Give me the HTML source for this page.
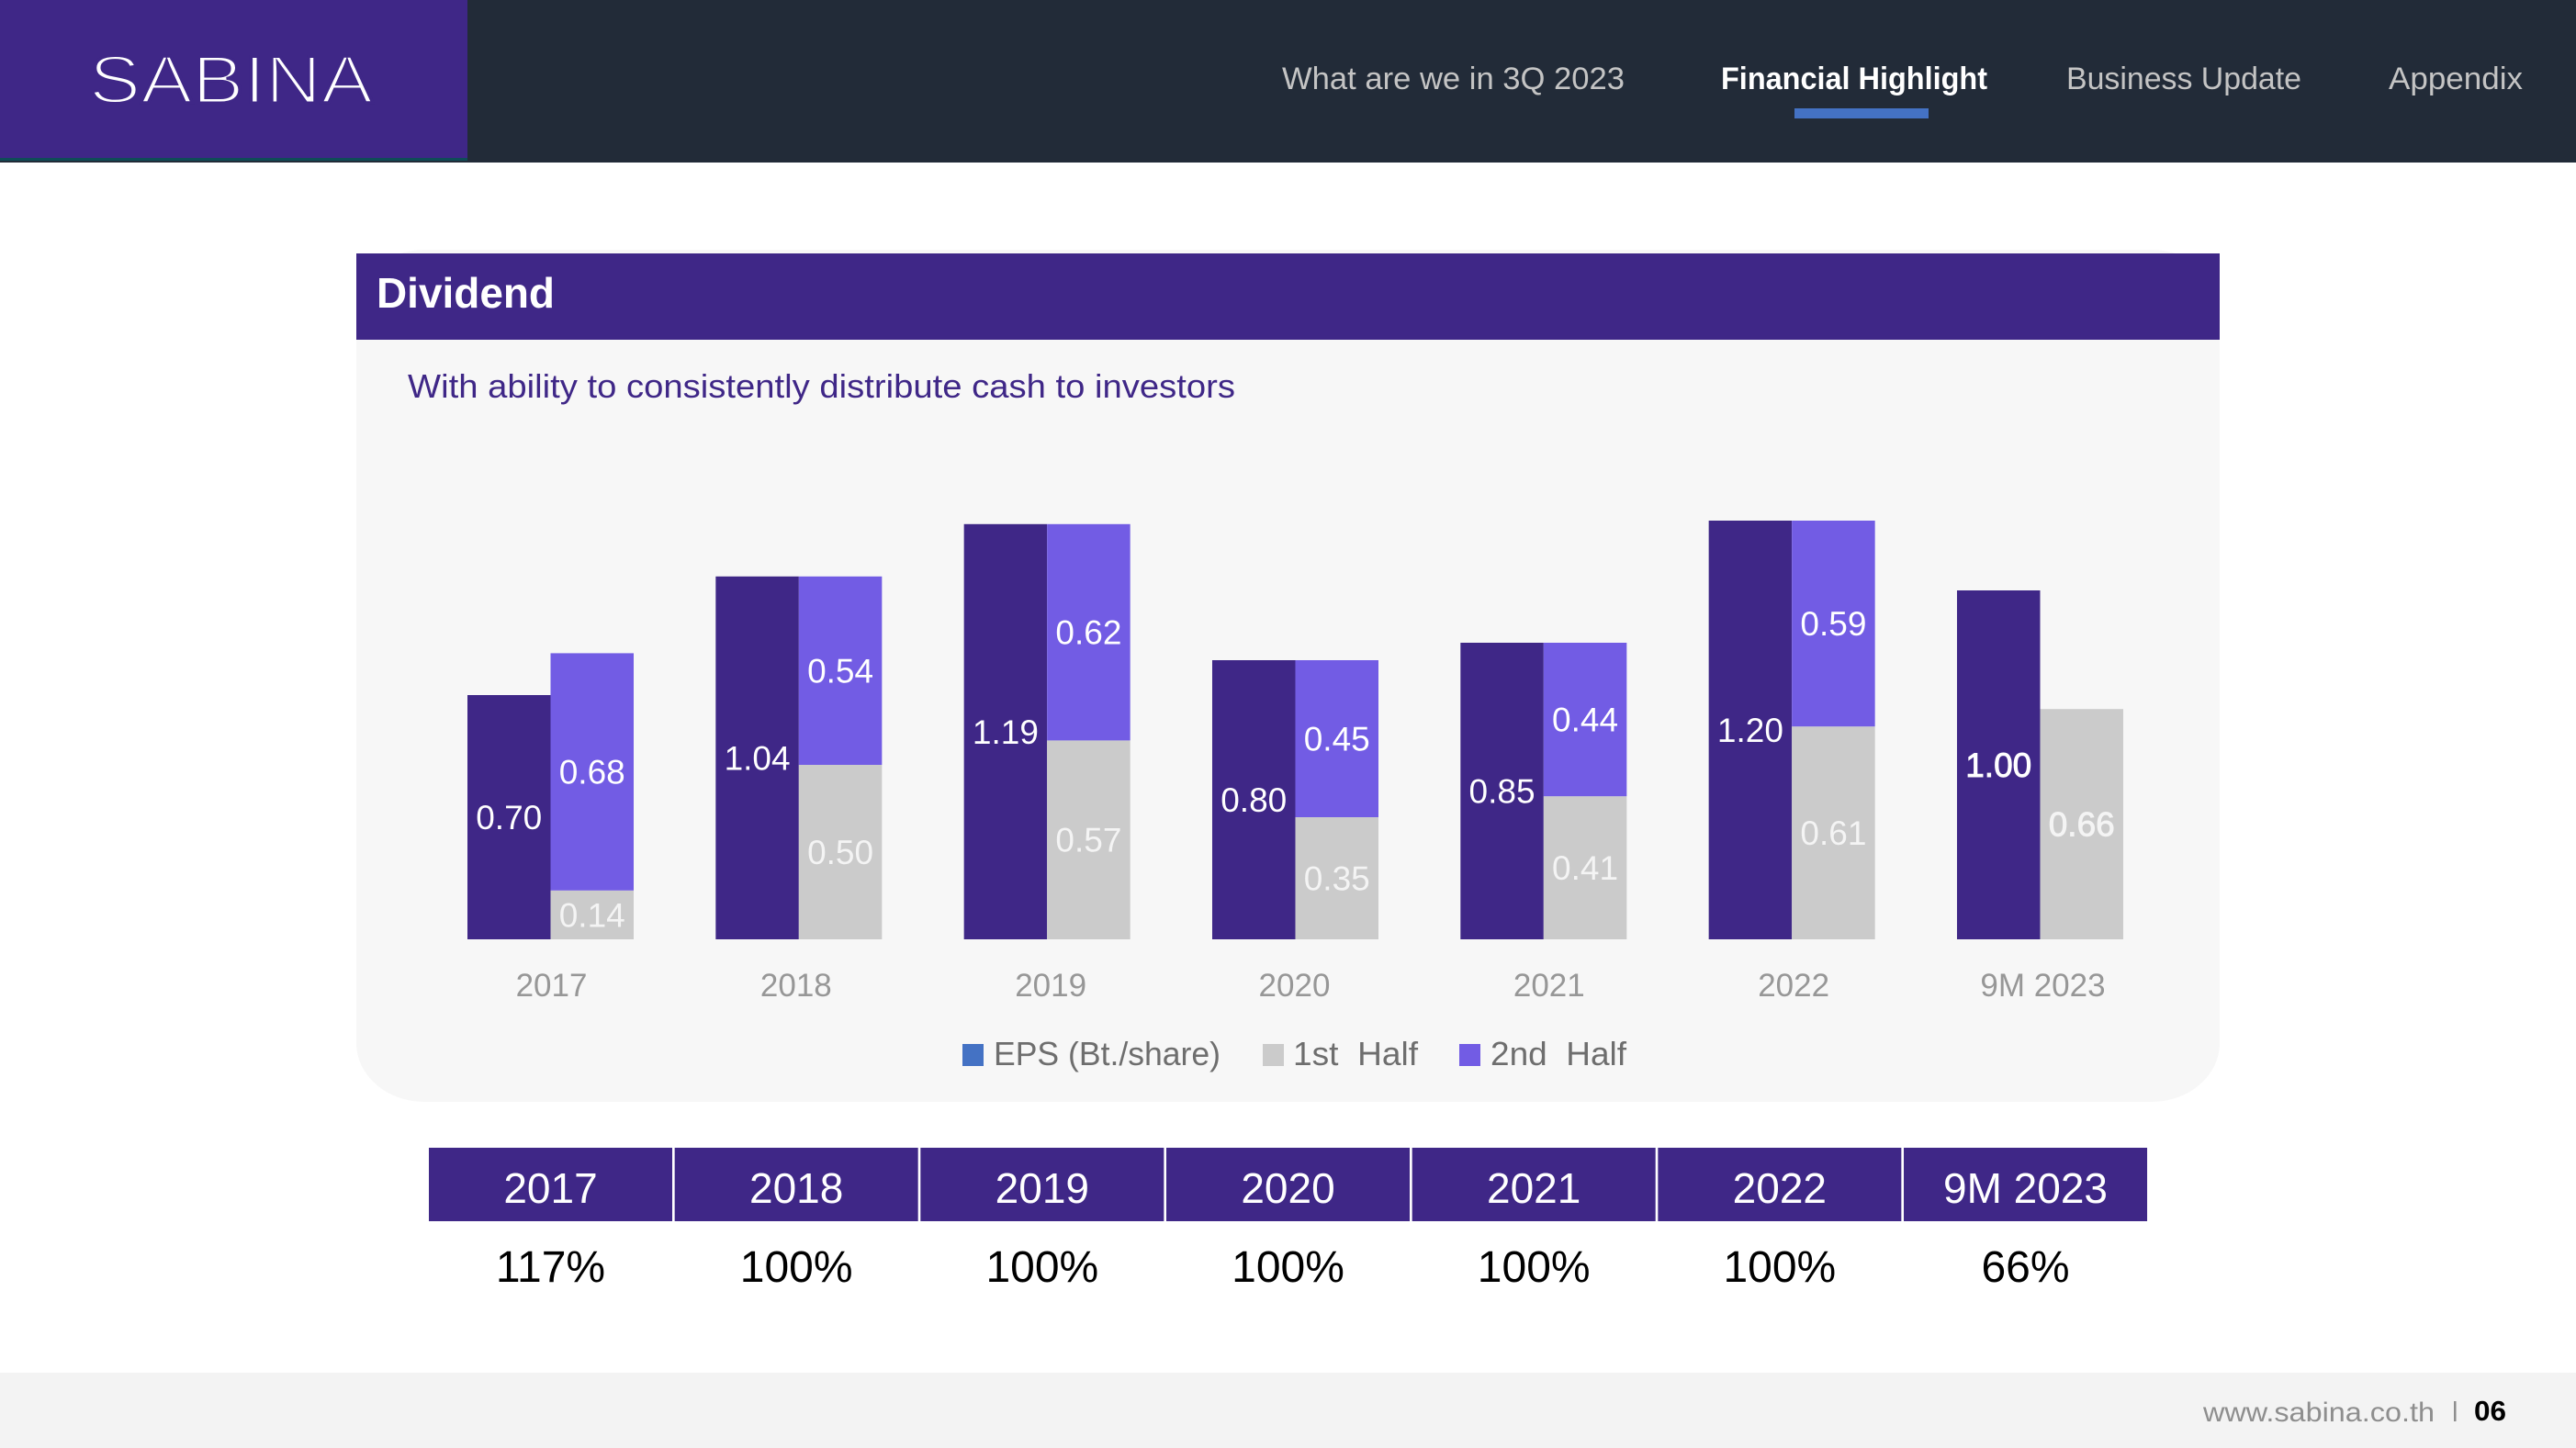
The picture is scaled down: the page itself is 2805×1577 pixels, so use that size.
<!DOCTYPE html>
<html lang="en">
<head>
<meta charset="utf-8">
<title>Sabina - Dividend</title>
<style>
html,body{margin:0;padding:0;background:#fff;width:2805px;height:1577px;overflow:hidden}
svg{display:block;font-family:"Liberation Sans",Arial,sans-serif}
text{white-space:pre}
</style>
</head>
<body>
<svg id="page" xmlns="http://www.w3.org/2000/svg" width="2805" height="1577" viewBox="0 0 2805 1577">
  <rect x="0" y="0" width="2805" height="1577" fill="#ffffff"/>

  <g>
    <rect x="0" y="0" width="2805" height="177" fill="#222b38"/>
    <rect x="0" y="0" width="509" height="172" fill="#3f2787"/>
    <rect x="0" y="172" width="509" height="3" fill="#0f4c58"/>
    <text x="97" y="112" font-size="73" fill="#ffffff" stroke="#3f2787" stroke-width="3" textLength="309" lengthAdjust="spacingAndGlyphs">SABINA</text>
    <text x="1396" y="97" font-size="34" fill="#c4c4c4" textLength="373" lengthAdjust="spacingAndGlyphs">What are we in 3Q 2023</text>
    <text x="1874" y="97" font-size="34" font-weight="bold" fill="#ffffff" textLength="290" lengthAdjust="spacingAndGlyphs">Financial Highlight</text>
    <rect x="1954" y="118" width="146" height="11" fill="#4472c4"/>
    <text x="2250" y="97" font-size="34" fill="#c4c4c4" textLength="256" lengthAdjust="spacingAndGlyphs">Business Update</text>
    <text x="2601" y="97" font-size="34" fill="#c4c4c4" textLength="146" lengthAdjust="spacingAndGlyphs">Appendix</text>
  </g>

  <g>
    <rect x="388" y="272" width="2029" height="928" rx="74" ry="64" fill="#f7f7f7"/>
    <rect x="388" y="276" width="2029" height="94" fill="#3f2787"/>
    <text x="410" y="335" font-size="46" font-weight="bold" fill="#ffffff" textLength="194" lengthAdjust="spacingAndGlyphs">Dividend</text>
    <text x="444" y="433" font-size="36" fill="#3f2787" textLength="901" lengthAdjust="spacingAndGlyphs">With ability to consistently distribute cash to investors</text>
  </g>

  <g id="chart">
    <g id="bars"></g>
    <g id="value-labels"></g>
    <g id="x-axis"></g>
    <g>
      <g>
        <rect x="1048" y="1137" width="23" height="24" fill="#4472c4"/>
        <text x="1082" y="1160" font-size="36" fill="#6e6e6e" textLength="247" lengthAdjust="spacingAndGlyphs">EPS (Bt./share)</text>
      </g>
      <g>
        <rect x="1375" y="1137" width="23" height="24" fill="#cbcbcb"/>
        <text x="1408" y="1160" font-size="36" fill="#6e6e6e" textLength="136" lengthAdjust="spacingAndGlyphs">1st  Half</text>
      </g>
      <g>
        <rect x="1589" y="1137" width="23" height="24" fill="#725ce4"/>
        <text x="1623" y="1160" font-size="36" fill="#6e6e6e" textLength="148" lengthAdjust="spacingAndGlyphs">2nd  Half</text>
      </g>
    </g>
  </g>

  <g id="payout-table"></g>

  <g>
    <rect x="0" y="1495" width="2805" height="82" fill="#f3f3f3"/>
    <text x="2399" y="1548" font-size="30" fill="#8e8e8e" textLength="252" lengthAdjust="spacingAndGlyphs">www.sabina.co.th</text>
    <rect x="2672" y="1526" width="2.5" height="22" fill="#8e8e8e"/>
    <text x="2694" y="1547" font-size="31" font-weight="bold" fill="#000000" textLength="35" lengthAdjust="spacingAndGlyphs">06</text>
  </g>
</svg>

<script>
const categories = ["2017", "2018", "2019", "2020", "2021", "2022", "9M 2023"];
const epsValues = [0.70, 1.04, 1.19, 0.80, 0.85, 1.20, 1.00];
const firstHalfValues = [0.14, 0.50, 0.57, 0.35, 0.41, 0.61, 0.66];
const secondHalfValues = [0.68, 0.54, 0.62, 0.45, 0.44, 0.59, null];
const payoutYears = ["2017", "2018", "2019", "2020", "2021", "2022", "9M 2023"];
const payoutRatios = ["117%", "100%", "100%", "100%", "100%", "100%", "66%"];

const SVG_NS = "http://www.w3.org/2000/svg";

function yScale(v) {
  return 1023 - v * 380;
}
function xCenter(i) {
  return 599.5 + i * 270.33;
}
const BAR_W = 90.5;

function makeRect(parent, x, y, w, h, fill) {
  const el = document.createElementNS(SVG_NS, "rect");
  el.setAttribute("x", x);
  el.setAttribute("y", y);
  el.setAttribute("width", w);
  el.setAttribute("height", h);
  el.setAttribute("fill", fill);
  parent.appendChild(el);
  return el;
}
function makeText(parent, str, x, y, size, fill) {
  const el = document.createElementNS(SVG_NS, "text");
  el.setAttribute("x", x);
  el.setAttribute("y", y);
  el.setAttribute("font-size", size);
  el.setAttribute("fill", fill);
  el.setAttribute("text-anchor", "middle");
  el.textContent = str;
  parent.appendChild(el);
  return el;
}
function valueLabel(parent, value, cx, y0, y1, fill, bold) {
  const el = makeText(parent, value.toFixed(2), cx, (y0 + y1) / 2 + 13, 37, fill);
  if (bold) {
    el.setAttribute("stroke", fill);
    el.setAttribute("stroke-width", "0.9");
  }
  return el;
}

function drawChart() {
  const bars = document.getElementById("bars");
  const labels = document.getElementById("value-labels");
  const axis = document.getElementById("x-axis");
  const base = yScale(0);
  const tickNudge = [1, -3, 4, -1, 6, 2, 3];

  categories.forEach(function (cat, i) {
    const cx = xCenter(i);
    const emphasise = secondHalfValues[i] === null;

    const epsTop = yScale(epsValues[i]);
    const epsBar = makeRect(bars, cx - BAR_W, epsTop, BAR_W, base - epsTop, "#3f2787");
    
    

    const firstTop = yScale(firstHalfValues[i]);
    const firstBar = makeRect(bars, cx, firstTop, BAR_W, base - firstTop, "#cbcbcb");
    
    

    const epsLabel = valueLabel(labels, epsValues[i], cx - BAR_W / 2, epsTop, base, "#ffffff", emphasise);
    
    

    const firstLabel = valueLabel(labels, firstHalfValues[i], cx + BAR_W / 2, firstTop, base, "#f4f4f4", emphasise);
    
    

    if (secondHalfValues[i] !== null) {
      const secondTop = yScale(firstHalfValues[i] + secondHalfValues[i]);
      const secondBar = makeRect(bars, cx, secondTop, BAR_W, firstTop - secondTop, "#725ce4");
      
      

      const secondLabel = valueLabel(labels, secondHalfValues[i], cx + BAR_W / 2, secondTop, firstTop, "#ffffff", false);
      
      
    }

    const tick = makeText(axis, cat, cx + tickNudge[i], 1085, 35, "#979797");
    
    
  });
}

function drawTable() {
  const table = document.getElementById("payout-table");
  payoutYears.forEach(function (year, i) {
    const left = 467 + i * 267.67;
    const cell = makeRect(table, left, 1250, 265, 80, "#3f2787");
    
    

    const head = makeText(table, year, left + 132.5, 1310, 46, "#ffffff");
    
    

    const ratio = makeText(table, payoutRatios[i], left + 132.5, 1396, 48, "#000000");
    
    
  });
}

drawChart();
drawTable();
</script>
</body>
</html>
